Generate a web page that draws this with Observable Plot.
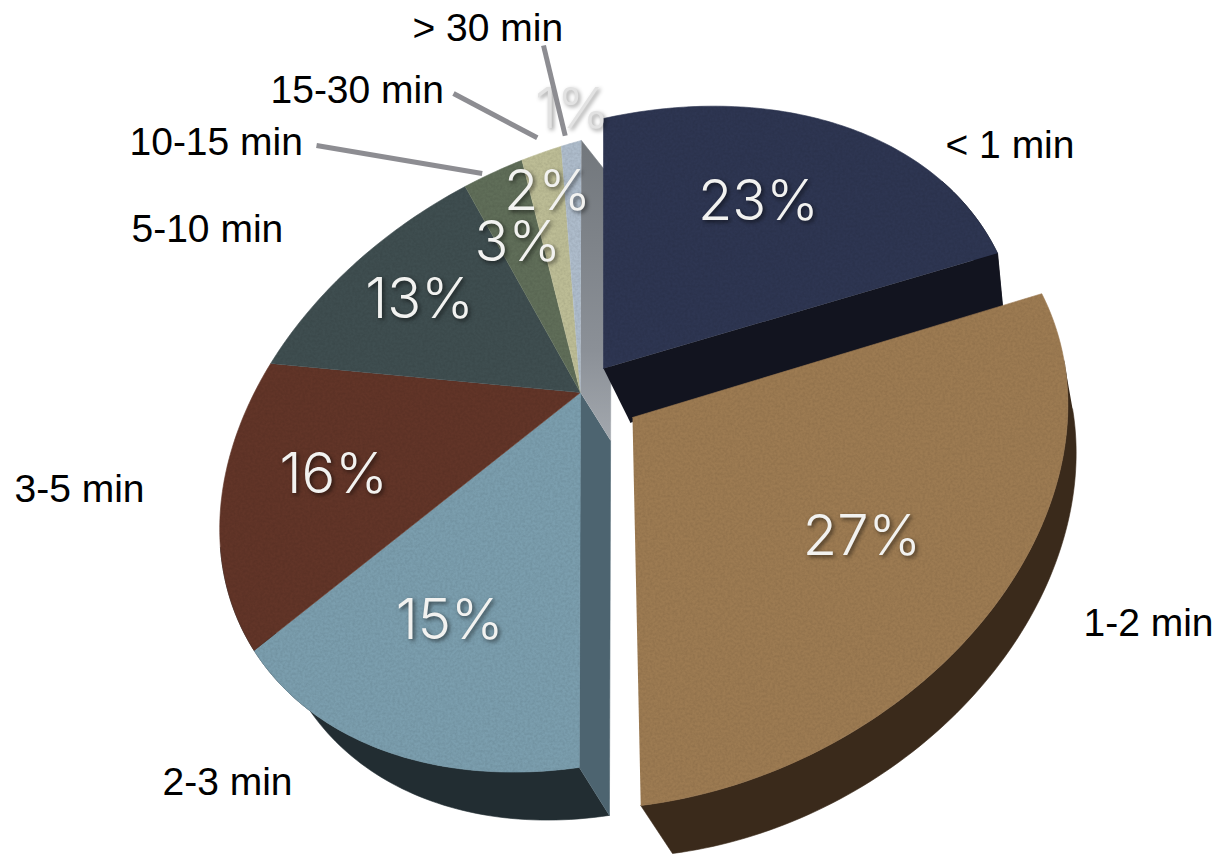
<!DOCTYPE html>
<html>
<head>
<meta charset="utf-8">
<style>
  html, body { margin: 0; padding: 0; background: #fff; overflow: hidden; }
  svg { display: block; }
</style>
<script src="https://cdn.jsdelivr.net/npm/d3@7"></script>
<script src="https://cdn.jsdelivr.net/npm/@observablehq/plot@0.6"></script>
</head>
<body>
<div id="chart"></div>
<script>
// Share of visits by duration, clockwise from twelve o'clock.
const durations = ["< 1 min", "1-2 min", "2-3 min", "3-5 min", "5-10 min", "10-15 min", "15-30 min", "> 30 min"];
const shares = [23, 27, 15, 16, 13, 3, 2, 1];

const faceColors = ["#2e3652", "#9d7b52", "#7b9eae", "#623528", "#3f4e50", "#606e59", "#bdbd96", "#aebccb"];
const wallColors = { first: "#12141f", second: "#3a2a1b", rest: "#222d32" };
const cutColors = { upper: "url(#cutUpper)", lower: "#4d6470" };

// Tilted disc: each piece has a projective map from the unit circle to the page,
// its own hub, and a depth direction for its underside.
const pieces = {
  first: { ox: 603, oy: 368, a: 392.3, b: 0, d: -77, e: -299, g: -0.037, h: 0.196, s: 1, dx: 27, dy: 54 },
  second: { ox: 632, oy: 417, a: 378, b: -6.4, d: -76, e: -301.4, g: -0.0788, h: 0.196, s: 1.035, dx: 34, dy: 48 },
  rest: { ox: 580, oy: 392, a: 382, b: 1, d: -83.5, e: -301.4, g: -0.0788, h: 0.196, s: 1, dx: 29, dy: 48 }
};

const pieceOf = (i) => (i === 0 ? "first" : i === 1 ? "second" : "rest");

function project(p, deg, r = 1) {
  const t = (deg * Math.PI) / 180;
  const u = r * Math.sin(t);
  const v = r * Math.cos(t);
  const w = 1 + p.g * u + p.h * v;
  return [p.ox + (p.s * (p.a * u + p.b * v)) / w, p.oy + (p.s * (p.d * u + p.e * v)) / w];
}

// Moves a top-surface point down to the underside of the piece.
function sink(p, [x, y]) {
  const dy = p === pieces.rest ? Math.min(p.dy, 38 + (y - 140) * 0.04) : p.dy;
  return [x + p.dx - 0.055 * (x - 600), y + dy];
}

const arc = (p, from, to) => d3.range(0, 1.0001, 1 / Math.max(2, Math.ceil(Math.abs(to - from)))).map((f) => project(p, from + (to - from) * f));

const bounds = d3.cumsum([0, ...shares]).map((s) => (s / 100) * 360);
const toRows = (id, pts, fill) => pts.map(([x, y], k) => ({ id, k, x, y, fill }));

const faces = shares.flatMap((_, i) => {
  const p = pieces[pieceOf(i)];
  return toRows(`face${i}`, [project(p, 0, 0), ...arc(p, bounds[i], bounds[i + 1])], faceColors[i]);
});

function rimWall(id, p, from, to, fill) {
  const top = arc(p, from, to);
  return toRows(id, [...top, ...top.map((q) => sink(p, q)).reverse()], fill);
}
function cutWall(id, p, deg, fill) {
  const hub = project(p, 0, 0);
  const rim = project(p, deg);
  return toRows(id, [hub, rim, sink(p, rim), sink(p, hub)], fill);
}

const restWalls = [
  ...rimWall("restRim", pieces.rest, 180, 255, wallColors.rest),
  ...cutWall("restLower", pieces.rest, 180, cutColors.lower),
  ...cutWall("restUpper", pieces.rest, 360, cutColors.upper)
];
const firstWalls = [
  ...rimWall("firstRim", pieces.first, 65, bounds[1], wallColors.first),
  ...cutWall("firstCut", pieces.first, bounds[1], wallColors.first)
];
const secondWalls = rimWall("secondRim", pieces.second, 95, 180, wallColors.second);

const restFaces = faces.filter((d) => !d.id.match(/^face[01]$/));
const firstFace = faces.filter((d) => d.id === "face0");
const secondFace = faces.filter((d) => d.id === "face1");

// Percent labels sit on each slice's middle angle, moved slightly off it where they crowd.
const pctPlacement = [
  { r: 0.68, nudge: [-8, 6] },
  { r: 0.68, nudge: [-3, 5] },
  { r: 0.68, nudge: [0, -2] },
  { r: 0.675, nudge: [0, 4] },
  { r: 0.676, nudge: [0, 0] },
  { r: 0.68, nudge: [0, 9] },
  { r: 0.68, nudge: [-5, -28] },
  { r: 1.15, nudge: [2, -3] }
];
const pctLabels = shares.map((v, i) => {
  const mid = (bounds[i] + bounds[i + 1]) / 2;
  const [x, y] = project(pieces[pieceOf(i)], mid, pctPlacement[i].r);
  return { text: `${v}%`, x: x + pctPlacement[i].nudge[0], y: y + pctPlacement[i].nudge[1], i };
});

// Outside captions, with leaders for the three thin slices.
const captionSpots = [
  [945, 145], [1083, 623], [162, 782], [14, 489], [131, 229], [129, 142], [270, 90], [412, 28]
];
const captions = durations.map((text, i) => ({ text, x: captionSpots[i][0], y: captionSpots[i][1] }));
const leaderStarts = { 5: [316, 145], 6: [453, 93], 7: [543, 45] };
const leaderEnds = { 5: { deg: 342, r: 1.02 }, 6: { deg: 352.5, r: 1.08 }, 7: { deg: 357.2, r: 1.045 } };
const leaders = Object.keys(leaderStarts).map((i) => {
  const [x1, y1] = leaderStarts[i];
  const [x2, y2] = project(pieces.rest, leaderEnds[i].deg, leaderEnds[i].r);
  return { x1, y1, x2, y2 };
});

const solid = (rows, extra = {}) =>
  Plot.line(rows, { x: "x", y: "y", z: "id", fill: "fill", stroke: "fill", strokeWidth: 0.6, curve: "linear", ...extra });

const pctStyle = { x: "x", y: "y", text: "text", fontSize: 56, fontFamily: "Inter", fontWeight: 300 };

const chart = Plot.plot({
  width: 1216,
  height: 856,
  margin: 0,
  x: { domain: [0, 1216], range: [0, 1216], axis: null },
  y: { domain: [0, 856], range: [0, 856], axis: null },
  color: { type: "identity" },
  style: { background: "#fff" },
  marks: [
    solid(restWalls),
    solid(restFaces, { imageFilter: "url(#grain)" }),
    solid(firstWalls),
    solid(firstFace, { imageFilter: "url(#grain)" }),
    solid(secondWalls),
    solid(secondFace, { imageFilter: "url(#grain)" }),
    Plot.text(pctLabels.filter((d) => d.i === 7), {
      ...pctStyle, fill: "#e2e2e2",
      imageFilter: "drop-shadow(2px 2px 2px rgba(0,0,0,.4))"
    }),
    Plot.link(leaders, { x1: "x1", y1: "y1", x2: "x2", y2: "y2", stroke: "#8d8d92", strokeWidth: 5 }),
    Plot.text(pctLabels.filter((d) => d.i !== 7), {
      ...pctStyle, fill: "#f2f2f0",
      imageFilter: "drop-shadow(2px 2px 2px rgba(0,0,0,.55))"
    }),
    Plot.text(captions, {
      x: "x", y: "y", text: "text", fontSize: 39, fontFamily: "Liberation Sans", fill: "#000", textAnchor: "start"
    })
  ]
});

// Faint grain for the slice surfaces and a soft gradient on the upper cut face.
const defs = document.createElementNS("http://www.w3.org/2000/svg", "defs");
defs.innerHTML = `
  <filter id="grain" filterUnits="userSpaceOnUse" x="0" y="0" width="1216" height="856" color-interpolation-filters="sRGB">
    <feTurbulence type="fractalNoise" baseFrequency="0.4" numOctaves="2" seed="5" result="noise"/>
    <feColorMatrix in="noise" type="matrix" values="0 0 0 0 0  0 0 0 0 0  0 0 0 0 0  0.14 0 0 0 -0.045" result="speck"/>
    <feComposite in="speck" in2="SourceAlpha" operator="in" result="clipped"/>
    <feMerge><feMergeNode in="SourceGraphic"/><feMergeNode in="clipped"/></feMerge>
  </filter>
  <linearGradient id="cutUpper" x1="0" y1="0" x2="0" y2="1">
    <stop offset="0" stop-color="#72777c"/>
    <stop offset="0.7" stop-color="#8b9097"/>
    <stop offset="1" stop-color="#a3a8ae"/>
  </linearGradient>`;
chart.insertBefore(defs, chart.firstChild);
document.getElementById("chart").appendChild(chart);
</script>
</body>
</html>
